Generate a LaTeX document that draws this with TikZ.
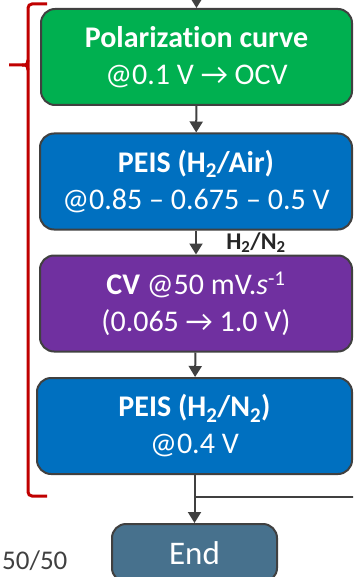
\documentclass[tikz,border=0pt]{standalone}
\usepackage{fontspec}
\setmainfont{Carlito}[Ligatures=NoCommon]
\usepackage{tikz}
\usetikzlibrary{arrows.meta,calc}
\definecolor{pgreen}{RGB}{0,176,80}
\definecolor{pblue}{RGB}{0,112,192}
\definecolor{ppurple}{RGB}{112,48,160}
\definecolor{pslate}{RGB}{71,113,141}
\definecolor{pedge}{RGB}{64,64,64}
\definecolor{pred}{RGB}{192,0,0}
\newcommand{\subt}[1]{\textsubscript{#1}}
\tikzset{
  stepbox/.style={draw=pedge, line width=2pt, rounded corners=14pt, text=white,
    align=center, minimum height=96pt, inner sep=0pt,
    font=\fontsize{30}{37}\selectfont},
  arr/.style={-{Triangle[length=11pt,width=13pt]}, pedge, line width=2pt},
  lin/.style={pedge, line width=2pt},
  brk/.style={pred, line width=3pt},
  lbl/.style={font=\fontsize{24}{26}\selectfont\bfseries, text=black!85},
}

\begin{document}
\begin{tikzpicture}[x=1pt,y=-1pt]
\useasboundingbox (0,0) rectangle (353,577);
\clip (0,0) rectangle (353,577);
% protocol steps
\node[stepbox, fill=pgreen, minimum width=311pt] (pc) at (196.5,57)
  {\textbf{Polarization curve}\\@0.1 V → OCV};
\node[stepbox, fill=pblue, minimum width=312pt] (pa) at (196,181.5)
  {\textbf{PEIS (H\subt{2}/Air)}\\@0.85 -- 0.675 -- 0.5 V};
\node[stepbox, fill=ppurple, minimum width=312pt] (cv) at (196,303.5)
  {\textbf{CV} @50 mV.\textit{s}\textsuperscript{-1}\\(0.065 → 1.0 V)};
\node[stepbox, fill=pblue, minimum width=315pt] (pn) at (194.5,426)
  {\textbf{PEIS (H\subt{2}/N\subt{2})}\\@0.4 V};
\node[stepbox, fill=pslate, minimum width=165pt, minimum height=58pt,
  font=\fontsize{33}{36}\selectfont] (end) at (194.5,553) {End};
% connectors
\coordinate (in) at (pc.north |- 0,-6);
\coordinate (jn) at ($(pn.south)!0.45!(end.north)$);
\coordinate (rt) at (360,0 |- jn);
\draw[arr] (in) -- (pc);
\draw[arr] (pc) -- (pa);
\draw[arr] (pa) -- (cv) node[lbl, midway, right=26pt] {H\subt{2}/N\subt{2}};
\draw[arr] (cv) -- (pn);
\draw[arr] (pn) -- (end);
\draw[lin] (jn) -- (rt);
% bracket
\draw[brk, rounded corners=4pt] (47,4) -- (28,4) -- (28,496) -- (47,496);
\draw[brk] (9,65) -- (22,65) .. controls (27,65) .. (28,60);
\draw[brk] (22,65) .. controls (27,65) .. (28,70);
\node[font=\fontsize{27}{30}\selectfont, text=pedge, anchor=base west,
  inner sep=0pt] (ratio) at (2,569) {50/50};
\end{tikzpicture}
\end{document}
